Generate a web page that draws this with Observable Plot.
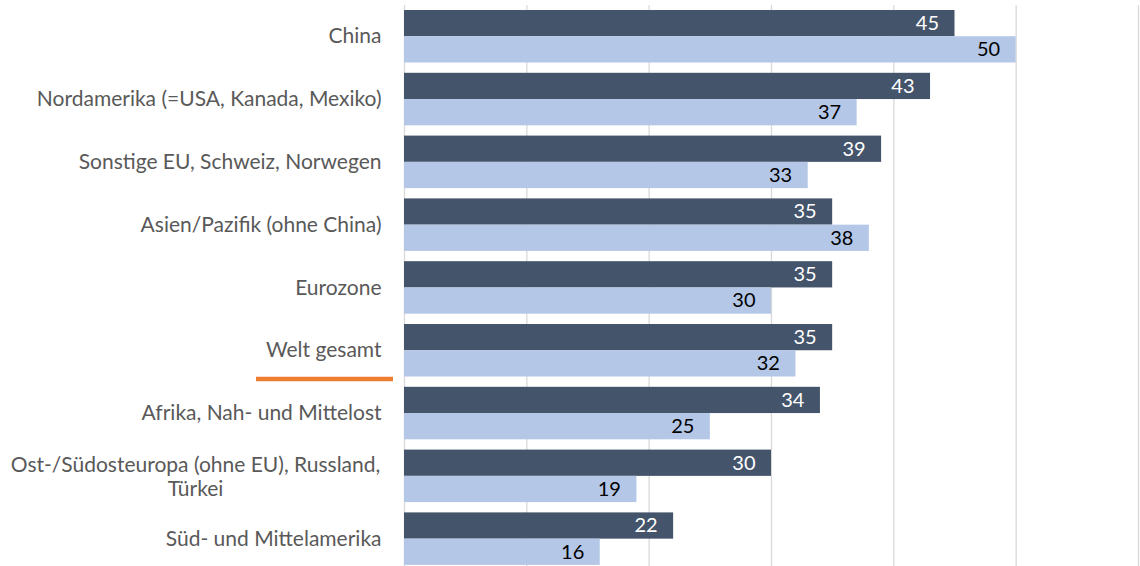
<!DOCTYPE html>
<html><head><meta charset="utf-8">
<script src="https://cdn.jsdelivr.net/npm/d3@7"></script>
<script src="https://cdn.jsdelivr.net/npm/@observablehq/plot@0.6"></script>
<style>body{margin:0;background:#fff;} #chart svg{display:block;}</style>
</head><body><div id="chart"></div>
<script>
const categories = ["China", "Nordamerika (=USA, Kanada, Mexiko)", "Sonstige EU, Schweiz, Norwegen", "Asien/Pazifik (ohne China)", "Eurozone", "Welt gesamt", "Afrika, Nah- und Mittelost", "Ost-/Südosteuropa (ohne EU), Russland, Türkei", "Süd- und Mittelamerika"];
const labels = ["China", "Nordamerika (=USA, Kanada, Mexiko)", "Sonstige EU, Schweiz, Norwegen", "Asien/Pazifik (ohne China)", "Eurozone", "Welt gesamt", "Afrika, Nah- und Mittelost", "Ost-/Südosteuropa (ohne EU), Russland,\nTürkei", "Süd- und Mittelamerika"];
const seriesDark = [45, 43, 39, 35, 35, 35, 34, 30, 22];
const seriesLight = [50, 37, 33, 38, 30, 32, 25, 19, 16];
const gridTicks = [0, 10, 20, 30, 40, 50, 60];
const highlight = "Welt gesamt";

const rows = categories.map((c, i) => ({cat: c, label: labels[i], dark: seriesDark[i], light: seriesLight[i], wrapped: labels[i].includes("\n")}));

const W = 1140, H = 566, ML = 404, MT = 5;
const pad = 0.164, step = 62.8;
const band = step * (1 - pad), half = band / 2;
const r0 = 10 - pad * step, r1 = r0 + step * (categories.length + pad);
const font = "Lato, 'Noto Sans', sans-serif";

const plot = Plot.plot({
  width: W, height: H,
  marginLeft: ML, marginRight: 2, marginTop: MT, marginBottom: 0,
  style: {fontFamily: font, background: "#fff"},
  x: {domain: [0, 60], axis: null},
  y: {domain: categories, range: [r0, r1], padding: pad, round: false, axis: null},
  marks: [
    Plot.ruleX(gridTicks, {stroke: "#d9d9d9", strokeWidth: 1.3}),
    Plot.barX(rows, {y: "cat", x: "dark", fill: "#44546a", insetBottom: half}),
    Plot.barX(rows, {y: "cat", x: "light", fill: "#b4c7e7", insetTop: half}),
    Plot.text(rows, {y: "cat", x: "dark", text: d => String(d.dark), dy: -half / 2, dx: -16, textAnchor: "end", fill: "#ffffff", fontSize: 20}),
    Plot.text(rows, {y: "cat", x: "light", text: d => String(d.light), dy: half / 2, dx: -16, textAnchor: "end", fill: "#000000", fontSize: 20}),
    Plot.text(rows.filter(d => !d.wrapped), {y: "cat", text: "label", frameAnchor: "left", dx: -23, textAnchor: "end", fill: "#595959", fontSize: 21}),
    Plot.text(rows.filter(d => d.wrapped), {y: "cat", text: "label", frameAnchor: "left", dx: -209, textAnchor: "middle", lineHeight: 1.15, fill: "#595959", fontSize: 21})
  ]
});

const yScale = plot.scale("y");
const yLine = yScale.apply(highlight) + yScale.bandwidth + 2.5;
d3.select(plot).append("line")
  .attr("x1", ML - 148).attr("x2", ML - 11)
  .attr("y1", yLine).attr("y2", yLine)
  .attr("stroke", "#ed7d31").attr("stroke-width", 4.5);

document.getElementById("chart").appendChild(plot);
</script>
</body></html>
